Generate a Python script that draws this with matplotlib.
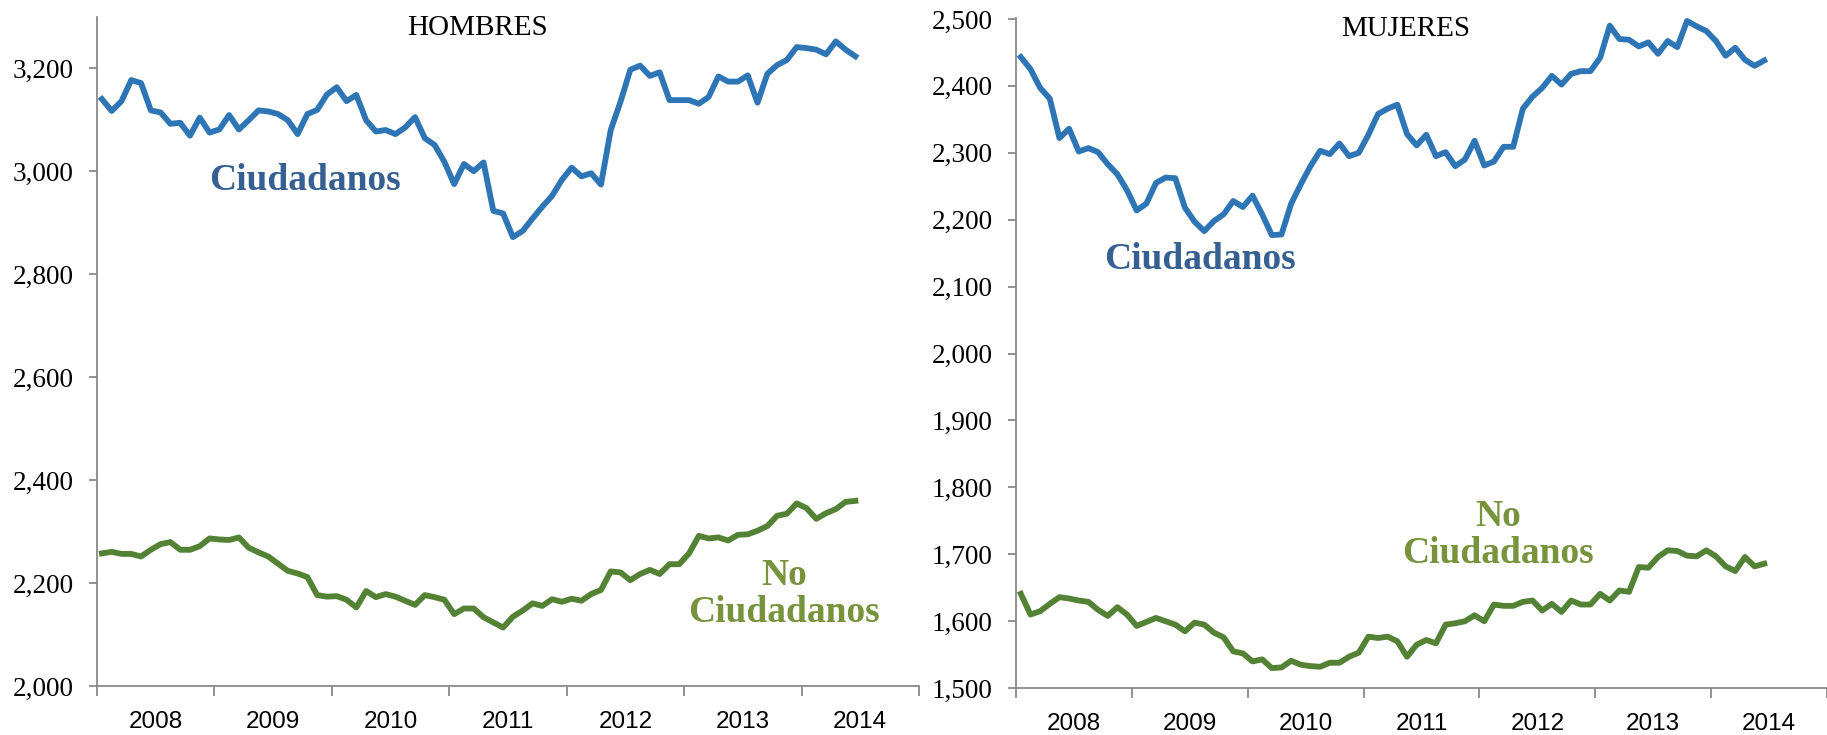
import numpy as np
import matplotlib
matplotlib.use("Agg")
import matplotlib.pyplot as plt
from matplotlib.ticker import FuncFormatter

# datos mensuales ene-2008 a jun-2014 (miles)
anios = ["2008", "2009", "2010", "2011", "2012", "2013", "2014"]

hombres_ciud = [3140, 3117, 3136, 3177, 3171, 3118, 3114, 3092, 3094, 3069,
                3104, 3075, 3081, 3109, 3081, 3099, 3118, 3116, 3111, 3099,
                3072, 3111, 3119, 3149, 3163, 3136, 3148, 3099, 3077, 3080,
                3072, 3085, 3105, 3064, 3051, 3018, 2975, 3014, 3000, 3017,
                2923, 2918, 2872, 2884, 2908, 2931, 2952, 2983, 3007, 2990,
                2996, 2974, 3080, 3135, 3197, 3205, 3185, 3192, 3138, 3138,
                3138, 3131, 3144, 3184, 3174, 3174, 3186, 3133, 3189, 3206,
                3216, 3241, 3239, 3236, 3227, 3252, 3236, 3223]
hombres_noc = [2258, 2261, 2257, 2257, 2252, 2265, 2276, 2280, 2265, 2265,
               2272, 2287, 2285, 2284, 2289, 2269, 2260, 2252, 2238, 2224,
               2219, 2212, 2177, 2174, 2175, 2168, 2153, 2185, 2173, 2179,
               2174, 2166, 2158, 2177, 2173, 2168, 2140, 2151, 2151, 2134,
               2124, 2114, 2135, 2147, 2161, 2156, 2169, 2164, 2170, 2166,
               2179, 2187, 2223, 2221, 2206, 2218, 2226, 2218, 2237, 2237,
               2258, 2292, 2287, 2289, 2283, 2294, 2295, 2302, 2311, 2331,
               2335, 2355, 2346, 2325, 2336, 2344, 2358, 2360]
mujeres_ciud = [2443, 2425, 2397, 2381, 2322, 2336, 2302, 2307, 2301, 2283,
                2268, 2244, 2214, 2224, 2255, 2263, 2262, 2218, 2197, 2183,
                2198, 2208, 2228, 2219, 2236, 2208, 2177, 2178, 2224, 2253,
                2280, 2303, 2298, 2314, 2295, 2300, 2327, 2358, 2366, 2372,
                2328, 2311, 2327, 2295, 2301, 2280, 2290, 2318, 2281, 2287,
                2309, 2309, 2366, 2384, 2397, 2415, 2402, 2418, 2422, 2422,
                2442, 2490, 2470, 2469, 2459, 2465, 2448, 2467, 2458, 2497,
                2489, 2482, 2467, 2445, 2457, 2439, 2430, 2438]
mujeres_noc = [1641, 1610, 1615, 1626, 1636, 1634, 1631, 1629, 1617, 1608,
               1621, 1610, 1593, 1599, 1605, 1600, 1595, 1585, 1598, 1595,
               1583, 1576, 1555, 1552, 1540, 1543, 1530, 1531, 1541, 1535,
               1533, 1532, 1538, 1538, 1547, 1553, 1577, 1575, 1577, 1570,
               1547, 1565, 1572, 1567, 1595, 1597, 1600, 1609, 1600, 1625,
               1623, 1623, 1629, 1631, 1616, 1626, 1614, 1631, 1625, 1625,
               1641, 1631, 1646, 1644, 1681, 1680, 1696, 1706, 1705, 1698,
               1697, 1706, 1697, 1682, 1675, 1696, 1682, 1686]

azul = "#2E75B6"
azul_txt = "#376092"
verde = "#548235"
verde_txt = "#77933C"

plt.rcParams['font.family'] = ['Liberation Serif', 'DejaVu Serif']

fig = plt.figure(figsize=(18.27, 7.35), dpi=100)
ax1 = fig.add_axes([0.0531, 0.0663, 0.4499, 0.911])
ax2 = fig.add_axes([0.5561, 0.0637, 0.4439, 0.9114])

meses = (np.arange(len(hombres_ciud)) + 0.5) / 12


def formato(ax, ymin, ymax, paso, xmax):
    ax.set_xlim(0, xmax)
    ax.set_ylim(ymin, ymax)
    ax.set_yticks(np.arange(ymin, ymax, paso))
    ax.yaxis.set_major_formatter(FuncFormatter(lambda v, p: f"{v:,.0f}"))
    for s in ["top", "right"]:
        ax.spines[s].set_visible(False)
    for s in ["left", "bottom"]:
        ax.spines[s].set_color("#898989")
        ax.spines[s].set_linewidth(1.3)
    # marcas en el limite de cada anio, etiqueta al centro
    ax.set_xticks(range(8))
    ax.set_xticklabels([])
    ax.set_xticks(np.arange(7) + 0.5, minor=True)
    ax.set_xticklabels(anios, minor=True, fontsize=17.5, family="Liberation Sans")
    ax.tick_params(axis="x", which="major", length=7, width=1.3, color="#898989")
    ax.tick_params(axis="x", which="minor", length=0, pad=18)
    ax.tick_params(axis="y", length=6, width=1.3, color="#898989", pad=11, labelsize=19.5)


ax1.plot(meses, hombres_ciud, color=azul, lw=4.2)
ax1.plot(meses, hombres_noc, color=verde, lw=4.2)
formato(ax1, 2000, 3300, 200, 7)
ax1.text(3.24, 3278, "HOMBRES", ha="center", va="center", fontsize=21)
ax1.text(1.77, 2981, "Ciudadanos", ha="center", va="center", fontsize=27,
         fontweight="bold", color=azul_txt)
ax1.text(5.85, 2179, "No\nCiudadanos", ha="center", va="center", fontsize=27,
         fontweight="bold", color=verde_txt, linespacing=1.05)

ax2.plot(meses, mujeres_ciud, color=azul, lw=4.2)
ax2.plot(meses, mujeres_noc, color=verde, lw=4.2)
formato(ax2, 1500, 2501, 100, 6.89)
ax2.text(3.36, 2485, "MUJERES", ha="center", va="center", fontsize=21)
ax2.text(1.59, 2141, "Ciudadanos", ha="center", va="center", fontsize=27,
         fontweight="bold", color=azul_txt)
ax2.text(4.16, 1729, "No\nCiudadanos", ha="center", va="center", fontsize=27,
         fontweight="bold", color=verde_txt, linespacing=1.05)

fig.savefig("out.png", dpi=100)
